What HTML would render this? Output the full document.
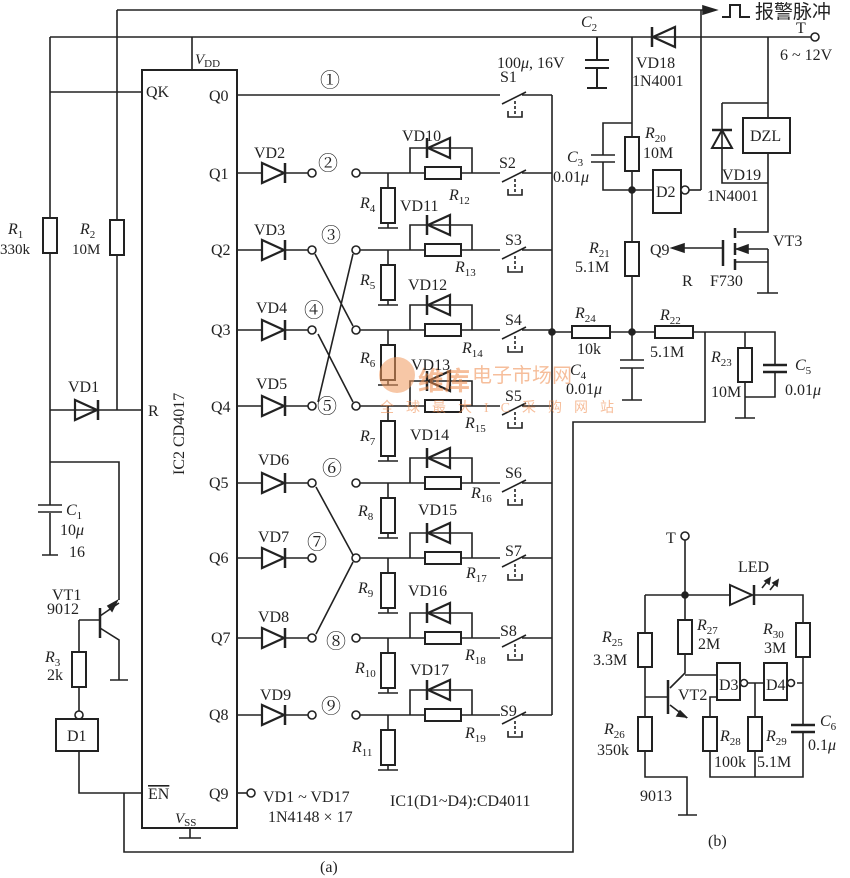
<!DOCTYPE html>
<html><head><meta charset="utf-8"><style>
html,body{margin:0;padding:0;background:#fff}
svg{display:block}
text{font-family:"Liberation Serif","Noto Serif CJK SC",serif;font-size:16px;fill:#222}
.i{font-style:italic}
.s{font-size:11px;font-style:normal}
.cj{font-family:"Liberation Serif","Noto Sans CJK SC",sans-serif}
.c{font-size:20px}
</style></head><body>
<svg width="850" height="878" viewBox="0 0 850 878" xmlns="http://www.w3.org/2000/svg">
<defs>
<g id="dR"><polygon points="0,-10 0,10 22,0" fill="none" stroke="#222" stroke-width="2.2"/><line x1="23" y1="-10" x2="23" y2="10" stroke="#222" stroke-width="2.5"/></g>
<g id="dL"><polygon points="0,-10 0,10 -22,0" fill="none" stroke="#222" stroke-width="2.2"/><line x1="-23" y1="-10" x2="-23" y2="10" stroke="#222" stroke-width="2.5"/></g>
<g id="rowL" fill="none" stroke="#222" stroke-width="1.6">
<path d="M237 0H262M286 0H308"/><use href="#dR" x="262" y="0"/><circle cx="312" cy="0" r="4" fill="#fff"/>
</g>
<g id="rowR" fill="none" stroke="#222" stroke-width="1.6">
<circle cx="356" cy="0" r="4" fill="#fff"/>
<path d="M360 0H500M410 0V-25H472V0M388 0V55M378 55H398M502 9L526 -3M522 0H552"/>
<use href="#dL" x="450" y="-25"/>
<rect x="425" y="-6" width="36" height="12" fill="#fff" stroke-width="2"/>
<rect x="381" y="15" width="14" height="35" fill="#fff" stroke-width="2"/>
<path d="M515 6V20" stroke-dasharray="3,2"/>
<path d="M508 16V22H522V16"/>
</g>
</defs>

<g fill="none" stroke="#222" stroke-width="1.6">
<path d="M117 10H712M117 10V410"/>
<polygon points="703,6 716,10 703,14" fill="#222"/>
<path d="M722 17H730V5H740V17H750" stroke-width="2"/>
<path d="M701 10V190"/>
<path d="M50 37H811"/><circle cx="815" cy="37" r="4" fill="#fff"/>
<path d="M192 37V70"/>
<rect x="142" y="70" width="95" height="758" stroke-width="2"/>
<path d="M50 92H142M50 37V410M50 410H142"/>
<use href="#dR" x="75" y="410"/>
<rect x="43" y="218" width="14" height="35" fill="#fff" stroke-width="2"/>
<rect x="110" y="220" width="14" height="35" fill="#fff" stroke-width="2"/>
<path d="M50 410V505M50 513V555M42 555H58M38 505H62M38 512H62" />
<path d="M50 462H119V600"/>
<path d="M100 608V638" stroke-width="2.5"/>
<path d="M79 620H100M100 616L119 603M100 628L119 640V680M110 680H128"/>
<polygon points="108,606 117,601 112,611" fill="#222"/>
<path d="M79 620V652M79 687V711"/>
<rect x="72" y="652" width="14" height="35" fill="#fff" stroke-width="2"/>
<circle cx="79" cy="715" r="4"/>
<rect x="56" y="719" width="42" height="32" stroke-width="2"/>
<path d="M79 751V793H142M124 793V852H573V422H705V332"/>
<path d="M190 828V838M179 838H201"/>
<circle cx="251" cy="793" r="4"/><path d="M237 793H247"/>
<path d="M237 95H500M502 104L526 92M522 95H552M552 95V715"/>
<path d="M515 101V115" stroke-dasharray="3,2"/><path d="M508 111V117H522V111"/>
<path d="M315 254L353 326M318 334L353 402M318 402L353 254M316 487L353 555M316 634L353 562"/>
<path d="M552 332H572M610 332H655M692 332H775V365M775 372V397H745V382M745 332V348M745 382V418M735 418H755"/>
<circle cx="552" cy="332" r="3" fill="#222"/><circle cx="632" cy="332" r="3" fill="#222"/>
<rect x="572" y="326" width="38" height="12" fill="#fff" stroke-width="2"/>
<rect x="655" y="326" width="38" height="12" fill="#fff" stroke-width="2"/>
<rect x="738" y="348" width="14" height="34" fill="#fff" stroke-width="2"/>
<path d="M763 365H787M763 372H787" stroke-width="2.5"/>
<path d="M632 37V137M632 170V242M632 275V360M632 368V400M622 400H642M620 360H644M620 368H644" />
<rect x="625" y="137" width="14" height="34" fill="#fff" stroke-width="2"/>
<rect x="625" y="242" width="14" height="34" fill="#fff" stroke-width="2"/>
<circle cx="632" cy="190" r="3" fill="#222"/>
<path d="M632 123H603V155M603 162V190H653M591 155H615M591 162H615" />
<rect x="653" y="170" width="28" height="43" stroke-width="2"/>
<circle cx="685" cy="190" r="4" fill="#fff"/><path d="M689 190H701"/>
<path d="M597 37V60M597 68V88M587 88H607M585 60H609M585 68H609" stroke-width="2"/>
<use href="#dL" x="675" y="37"/>
<path d="M768 37V118M768 153V232H737M722 103H768M722 103V183H768"/>
<rect x="743" y="118" width="47" height="35" stroke-width="2"/>
<polygon points="712,148 732,148 722,130" stroke-width="2"/><path d="M712 130H732" stroke-width="2.5"/>
<path d="M723 240V266M735 228V238M735 243V255M735 259V270" stroke-width="2.5"/>
<path d="M735 249H768M735 262H768M768 249V293M757 293H778M672 248H722"/>
<polygon points="672,248 684,244 684,252" fill="#222"/>
<polygon points="737,249 748,245 748,253" fill="#222"/>
</g>

<use href="#rowL" y="173"/><use href="#rowL" y="250"/><use href="#rowL" y="330"/><use href="#rowL" y="406"/>
<use href="#rowL" y="483"/><use href="#rowL" y="558"/><use href="#rowL" y="638"/><use href="#rowL" y="715"/>
<use href="#rowR" y="173"/><use href="#rowR" y="250"/><use href="#rowR" y="330"/><use href="#rowR" y="406"/>
<use href="#rowR" y="483"/><use href="#rowR" y="558"/><use href="#rowR" y="638"/><use href="#rowR" y="715"/>

<g fill="none" stroke="#222" stroke-width="1.6">
<circle cx="685" cy="536" r="4"/>
<path d="M685 540V620M685 653V673L670 688M645 595H730M755 595H803V623M803 657V725M803 732V777H710V750M645 595V633M645 667V717M645 697H668M645 750V777H687V815M678 815H697M670 705L687 718M685 675H717M717 697H710V717M745 683H764M755 683V717M755 750V777M797 683H803"/>
<circle cx="685" cy="595" r="3" fill="#222"/>
<path d="M668 680V714" stroke-width="2.5"/>
<polygon points="730,585 730,605 752,595" stroke-width="2"/><path d="M754 585V605" stroke-width="2.5"/>
<path d="M762 588L770 578M770 590L778 580" /><polygon points="770,578 765,581 769,584" fill="#222"/><polygon points="778,580 773,583 777,586" fill="#222"/>
<rect x="638" y="633" width="14" height="34" fill="#fff" stroke-width="2"/>
<rect x="638" y="717" width="14" height="34" fill="#fff" stroke-width="2"/>
<rect x="678" y="620" width="14" height="34" fill="#fff" stroke-width="2"/>
<rect x="796" y="623" width="14" height="34" fill="#fff" stroke-width="2"/>
<rect x="703" y="717" width="14" height="34" fill="#fff" stroke-width="2"/>
<rect x="748" y="717" width="14" height="34" fill="#fff" stroke-width="2"/>
<rect x="717" y="663" width="23" height="37" stroke-width="2"/><circle cx="744" cy="683" r="3.5" fill="#fff"/>
<rect x="764" y="663" width="23" height="37" stroke-width="2"/><circle cx="791" cy="683" r="3.5" fill="#fff"/>
<path d="M791 725H815M791 732H815" stroke-width="2.5"/>
<polygon points="680,711 686,717 677,716" fill="#222"/>
</g>

<g opacity="0.55">
<circle cx="397" cy="375" r="18" fill="#f29a5f"/>
<text x="418" y="390" style="font-size:26px;fill:#f08a4b;font-weight:bold" class="cj">维库</text>
<text x="472" y="382" style="font-size:20px;fill:#f08a4b" class="cj">电子市场网</text>
<text x="380" y="412" style="font-size:14px;fill:#f08a4b;letter-spacing:12px" class="cj">全球最大IC采购网站</text>
</g>

<text x="755" y="18" class="cj" style="font-size:19px">报警脉冲</text>
<text x="796" y="33">T</text>
<text x="780" y="60">6 ~ 12V</text>
<text x="581" y="27" class="i">C<tspan class="s" dy="4">2</tspan></text>
<text x="497" y="68">100<tspan class="i">μ</tspan>, 16V</text>
<text x="636" y="68">VD18</text><text x="632" y="86">1N4001</text>
<text x="750" y="141">DZL</text>
<text x="722" y="180">VD19</text><text x="707" y="201">1N4001</text>
<text x="645" y="138" class="i">R<tspan class="s" dy="4">20</tspan></text><text x="643" y="158">10M</text>
<text x="567" y="162" class="i">C<tspan class="s" dy="4">3</tspan></text><text x="553" y="182">0.01<tspan class="i">μ</tspan></text>
<text x="656" y="197">D2</text>
<text x="589" y="253" class="i">R<tspan class="s" dy="4">21</tspan></text><text x="575" y="272">5.1M</text>
<text x="650" y="255">Q9</text><text x="773" y="246">VT3</text>
<text x="682" y="286">R</text><text x="710" y="286">F730</text>
<text x="575" y="318" class="i">R<tspan class="s" dy="4">24</tspan></text><text x="577" y="354">10k</text>
<text x="660" y="320" class="i">R<tspan class="s" dy="4">22</tspan></text><text x="650" y="357">5.1M</text>
<text x="570" y="375" class="i">C<tspan class="s" dy="4">4</tspan></text><text x="566" y="394">0.01<tspan class="i">μ</tspan></text>
<text x="711" y="362" class="i">R<tspan class="s" dy="4">23</tspan></text><text x="711" y="397">10M</text>
<text x="795" y="370" class="i">C<tspan class="s" dy="4">5</tspan></text><text x="785" y="395">0.01<tspan class="i">μ</tspan></text>

<text x="195" y="64" class="i" style="font-size:15px">V<tspan class="s" dy="3">DD</tspan></text>
<text x="146" y="97">QK</text><text x="209" y="101">Q0</text>
<text x="209" y="179">Q1</text><text x="211" y="255">Q2</text><text x="211" y="335">Q3</text><text x="211" y="412">Q4</text>
<text x="209" y="488">Q5</text><text x="209" y="563">Q6</text><text x="211" y="643">Q7</text><text x="209" y="720">Q8</text><text x="209" y="799">Q9</text>
<text x="148" y="416">R</text>
<text x="148" y="799" style="text-decoration:overline">EN</text>
<text x="175" y="823" class="i" style="font-size:15px">V<tspan class="s" dy="3">SS</tspan></text>
<text transform="translate(184,475) rotate(-90)">IC2 CD4017</text>
<text x="8" y="234" class="i">R<tspan class="s" dy="4">1</tspan></text><text x="0" y="254" style="font-size:15px">330k</text>
<text x="80" y="234" class="i">R<tspan class="s" dy="4">2</tspan></text><text x="72" y="254" style="font-size:15px">10M</text>
<text x="68" y="392">VD1</text>
<text x="66" y="515" class="i">C<tspan class="s" dy="4">1</tspan></text><text x="60" y="535">10<tspan class="i">μ</tspan></text><text x="69" y="557">16</text>
<text x="52" y="600">VT1</text><text x="47" y="614">9012</text>
<text x="45" y="662" class="i">R<tspan class="s" dy="4">3</tspan></text><text x="47" y="680">2k</text>
<text x="67" y="741">D1</text>

<text x="320" y="87" class="c">①</text><text x="500" y="82">S1</text>
<text x="254" y="158">VD2</text><text x="318" y="170" class="c">②</text><text x="360" y="208" class="i">R<tspan class="s" dy="4">4</tspan></text><text x="402" y="141">VD10</text><text x="449" y="200" class="i">R<tspan class="s" dy="4">12</tspan></text><text x="499" y="168">S2</text>
<text x="254" y="235">VD3</text><text x="321" y="242" class="c">③</text><text x="360" y="285" class="i">R<tspan class="s" dy="4">5</tspan></text><text x="400" y="211">VD11</text><text x="455" y="272" class="i">R<tspan class="s" dy="4">13</tspan></text><text x="505" y="245">S3</text>
<text x="256" y="313">VD4</text><text x="304" y="317" class="c">④</text><text x="360" y="363" class="i">R<tspan class="s" dy="4">6</tspan></text><text x="408" y="290">VD12</text><text x="462" y="353" class="i">R<tspan class="s" dy="4">14</tspan></text><text x="505" y="325">S4</text>
<text x="256" y="389">VD5</text><text x="317" y="413" class="c">⑤</text><text x="360" y="441" class="i">R<tspan class="s" dy="4">7</tspan></text><text x="411" y="370">VD13</text><text x="465" y="428" class="i">R<tspan class="s" dy="4">15</tspan></text><text x="505" y="401">S5</text>
<text x="258" y="465">VD6</text><text x="322" y="475" class="c">⑥</text><text x="358" y="516" class="i">R<tspan class="s" dy="4">8</tspan></text><text x="410" y="440">VD14</text><text x="471" y="498" class="i">R<tspan class="s" dy="4">16</tspan></text><text x="505" y="478">S6</text>
<text x="258" y="542">VD7</text><text x="307" y="549" class="c">⑦</text><text x="358" y="593" class="i">R<tspan class="s" dy="4">9</tspan></text><text x="418" y="515">VD15</text><text x="466" y="578" class="i">R<tspan class="s" dy="4">17</tspan></text><text x="505" y="556">S7</text>
<text x="258" y="622">VD8</text><text x="326" y="648" class="c">⑧</text><text x="355" y="673" class="i">R<tspan class="s" dy="4">10</tspan></text><text x="408" y="596">VD16</text><text x="465" y="660" class="i">R<tspan class="s" dy="4">18</tspan></text><text x="500" y="636">S8</text>
<text x="260" y="700">VD9</text><text x="321" y="713" class="c">⑨</text><text x="352" y="752" class="i">R<tspan class="s" dy="4">11</tspan></text><text x="410" y="675">VD17</text><text x="465" y="738" class="i">R<tspan class="s" dy="4">19</tspan></text><text x="500" y="716">S9</text>

<text x="263" y="802">VD1 ~ VD17</text><text x="268" y="822">1N4148 × 17</text>
<text x="390" y="806" class="cj">IC1(D1~D4):CD4011</text>
<text x="320" y="872">(a)</text>
<text x="708" y="846">(b)</text>

<text x="666" y="543">T</text>
<text x="738" y="572">LED</text>
<text x="602" y="642" class="i">R<tspan class="s" dy="4">25</tspan></text><text x="593" y="665">3.3M</text>
<text x="697" y="630" class="i">R<tspan class="s" dy="4">27</tspan></text><text x="698" y="649">2M</text>
<text x="763" y="634" class="i">R<tspan class="s" dy="4">30</tspan></text><text x="764" y="653">3M</text>
<text x="678" y="700">VT2</text>
<text x="719" y="690">D3</text><text x="766" y="690">D4</text>
<text x="604" y="734" class="i">R<tspan class="s" dy="4">26</tspan></text><text x="597" y="755">350k</text>
<text x="720" y="741" class="i">R<tspan class="s" dy="4">28</tspan></text><text x="714" y="767">100k</text>
<text x="766" y="741" class="i">R<tspan class="s" dy="4">29</tspan></text><text x="757" y="767">5.1M</text>
<text x="820" y="726" class="i">C<tspan class="s" dy="4">6</tspan></text><text x="808" y="750">0.1<tspan class="i">μ</tspan></text>
<text x="640" y="801">9013</text>
</svg>
</body></html>
